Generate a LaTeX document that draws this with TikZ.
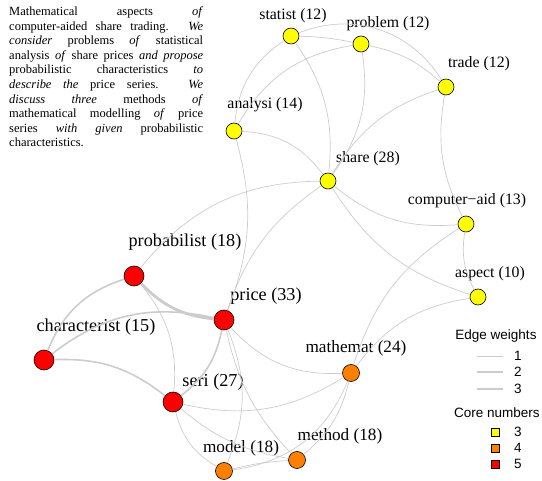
\documentclass[tikz,border=0pt]{standalone}
\usepackage{fontspec}
\setmainfont{Liberation Serif}
\newfontfamily\legendfont{Liberation Sans}
\usepackage{tikz}
\definecolor{coreyellow}{RGB}{255,255,0}
\definecolor{coreorange}{RGB}{255,127,0}
\definecolor{corered}{RGB}{255,0,0}
\definecolor{edgegray}{RGB}{204,204,204}

\begin{document}
\begin{tikzpicture}[
        x=1pt, y=1pt,
        core-three/.style={circle,draw=black,line width=0.6pt,fill=coreyellow,minimum size=16pt,inner sep=0pt},
        core-four/.style={circle,draw=black,line width=0.6pt,fill=coreorange,minimum size=17pt,inner sep=0pt},
        core-five/.style={circle,draw=black,line width=0.6pt,fill=corered,minimum size=20pt,inner sep=0pt},
        lab-three/.style={inner sep=0pt,font=\fontsize{15.8}{18}\selectfont},
        lab-four/.style={inner sep=0pt,font=\fontsize{17.2}{20}\selectfont},
        lab-five/.style={inner sep=0pt,font=\fontsize{18.2}{21}\selectfont},
        w-one/.style={draw=edgegray,line width=0.7pt},
        w-two/.style={draw=edgegray,line width=1.6pt},
        w-three/.style={draw=edgegray,line width=2.8pt},
        key-box/.style={rectangle,draw=black,line width=0.6pt,minimum size=8pt,inner sep=0pt},
        key-text/.style={inner sep=0pt,font=\legendfont\fontsize{13.5}{16}\selectfont}
    ]
        \useasboundingbox (0,0) rectangle (542,-481);

        \node[anchor=base west,inner sep=0pt,font=\fontsize{12.5}{14.6}\selectfont] (abstract) at (9,-15.5) {\parbox[t]{194pt}{%
            \makebox[194pt][s]{Mathematical aspects \textit{of}}\\
            \makebox[194pt][s]{computer-aided share trading. \textit{We}}\\
            \makebox[194pt][s]{\textit{consider} problems \textit{of} statistical}\\
            \makebox[194pt][s]{analysis \textit{of} share prices \textit{and propose}}\\
            \makebox[194pt][s]{probabilistic characteristics \textit{to}}\\
            \makebox[194pt][s]{\textit{describe the} price series. \textit{We}}\\
            \makebox[194pt][s]{\textit{discuss three} methods \textit{of}}\\
            \makebox[194pt][s]{mathematical modelling \textit{of} price}\\
            \makebox[194pt][s]{series \textit{with given} probabilistic}\\
            characteristics.}};

        \node[core-three] (statist)  at (291, -36) {};
        \node[core-three] (problem)  at (361, -44) {};
        \node[core-three] (trade)    at (446, -87) {};
        \node[core-three] (analysi)  at (234, -131) {};
        \node[core-three] (share)    at (328, -181) {};
        \node[core-three] (computer) at (466, -224) {};
        \node[core-three] (aspect)   at (478, -297) {};

        \node[core-five] (probabilist)  at (134, -276) {};
        \node[core-five] (price)        at (224, -320) {};
        \node[core-five] (characterist) at (44, -360) {};
        \node[core-five] (seri)         at (173, -402) {};

        \node[core-four] (mathemat) at (351, -373) {};
        \node[core-four] (method)   at (297, -460) {};
        \node[core-four] (model)    at (224, -471) {};

        \node[lab-three] (statist-lab)  at (293, -16) {statist (12)};
        \node[lab-three] (problem-lab)  at (388, -24) {problem (12)};
        \node[lab-three] (trade-lab)    at (479, -64) {trade (12)};
        \node[lab-three] (analysi-lab)  at (265, -105) {analysi (14)};
        \node[lab-three] (share-lab)    at (368, -159) {share (28)};
        \node[lab-three] (computer-lab) at (467, -201) {computer−aid (13)};
        \node[lab-three] (aspect-lab)   at (490, -274) {aspect (10)};

        \node[lab-five] (probabilist-lab)  at (185, -242) {probabilist (18)};
        \node[lab-five] (price-lab)        at (266, -296) {price (33)};
        \node[lab-five] (characterist-lab) at (96, -327) {characterist (15)};
        \node[lab-five] (seri-lab)         at (213, -382) {seri (27)};

        \node[lab-four] (mathemat-lab) at (356, -348) {mathemat (24)};
        \node[lab-four] (method-lab)   at (340, -436) {method (18)};
        \node[lab-four] (model-lab)    at (241, -448) {model (18)};

        % weight 1
        \draw[w-one] (statist) to[bend left=5] (problem);
        \draw[w-one] (statist) to[bend left=40] (trade);
        \draw[w-one] (problem) to[bend left=15] (trade);
        \draw[w-one] (statist) to[bend right=25] (analysi);
        \draw[w-one] (problem) to[bend right=25] (analysi);
        \draw[w-one] (statist) to[bend left=20] (share);
        \draw[w-one] (problem) to[bend left=22] (share);
        \draw[w-one] (trade) to[bend right=20] (share);
        \draw[w-one] (trade) to[bend right=18] (computer);
        \draw[w-one] (analysi) to[bend left=25] (share);
        \draw[w-one] (analysi) to[bend left=18] (price);
        \draw[w-one] (share) to[bend right=25] (probabilist);
        \draw[w-one] (share) to[bend right=18] (price);
        \draw[w-one] (share) to[bend right=22] (computer);
        \draw[w-one] (share) to[bend right=20] (aspect);
        \draw[w-one] (computer) to[bend right=18] (aspect);
        \draw[w-one] (computer) to[bend right=20] (mathemat);
        \draw[w-one] (aspect) to[bend right=22] (mathemat);
        \draw[w-one] (price) to[bend right=25] (mathemat);
        \draw[w-one] (price) to[bend left=22] (model);
        \draw[w-one] (price) to[bend right=15] (method);
        \draw[w-one] (probabilist) to[bend left=22] (seri);
        \draw[w-one] (seri) to[bend right=22] (mathemat);
        \draw[w-one] (seri) to[bend right=22] (model);
        \draw[w-one] (seri) to[bend right=15] (method);
        \draw[w-one] (model) to[bend left=5] (method);
        \draw[w-one] (model) to[bend right=30] (mathemat);
        \draw[w-one] (method) to[bend right=18] (mathemat);
        % weight 2
        \draw[w-two] (price) to[bend left=20] (seri);
        \draw[w-two] (probabilist) to[bend right=25] (characterist);
        \draw[w-two] (characterist) to[bend left=25] (price);
        \draw[w-two] (characterist) to[bend left=20] (seri);
        % weight 3
        \draw[w-three] (probabilist) to[bend right=20] (price);

        % legend
        \node[key-text] (weights-title) at (496, -336) {Edge weights};
        \coordinate (w1-a) at (477, -356); \coordinate (w1-b) at (503, -356);
        \coordinate (w2-a) at (477, -372); \coordinate (w2-b) at (503, -372);
        \coordinate (w3-a) at (477, -389); \coordinate (w3-b) at (503, -389);
        \draw[w-one] (w1-a) -- (w1-b);
        \draw[w-two] (w2-a) -- (w2-b);
        \draw[w-three] (w3-a) -- (w3-b);
        \node[key-text] (w1-text) at (518, -356) {1};
        \node[key-text] (w2-text) at (518, -372) {2};
        \node[key-text] (w3-text) at (518, -389) {3};

        \node[key-text] (cores-title) at (497, -413) {Core numbers};
        \node[key-box,fill=coreyellow] (key3) at (495.5, -432) {};
        \node[key-box,fill=coreorange] (key4) at (495.5, -448) {};
        \node[key-box,fill=corered]    (key5) at (495.5, -464) {};
        \node[key-text] (key3-text) at (518, -432) {3};
        \node[key-text] (key4-text) at (518, -448) {4};
        \node[key-text] (key5-text) at (518, -464) {5};
    \end{tikzpicture}
\end{document}
